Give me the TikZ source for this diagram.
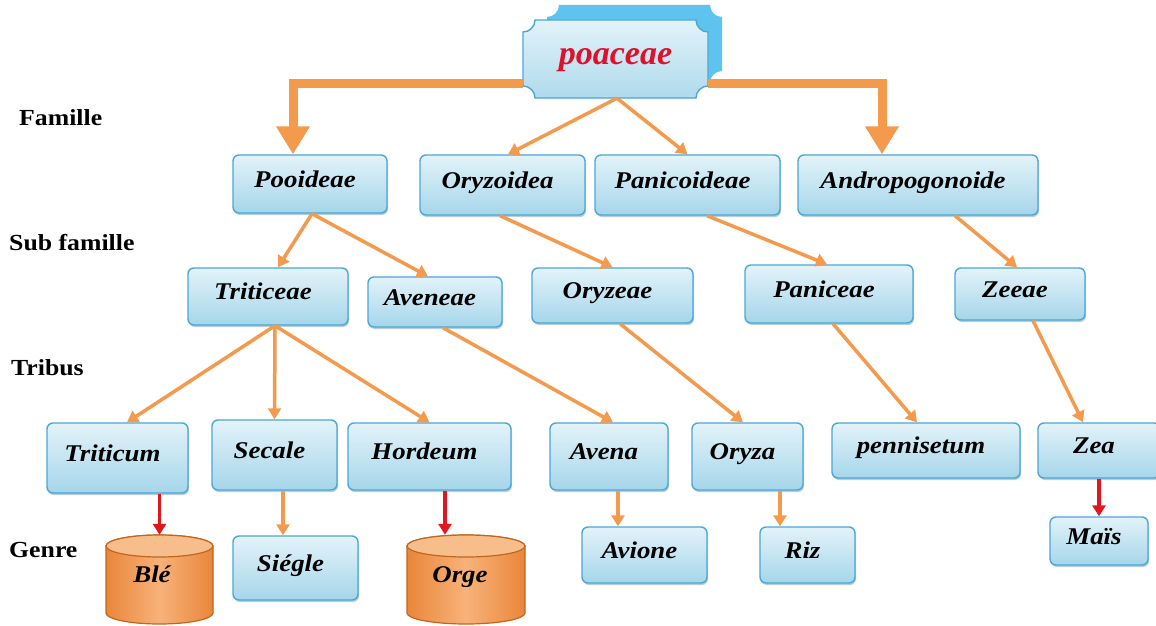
\documentclass[tikz,border=0pt]{standalone}
\usepackage{fontspec}
\setmainfont{Liberation Serif}
\newfontfamily\widefont{Liberation Serif}[FakeStretch=1.12]
\usetikzlibrary{arrows.meta,shadows,backgrounds}
\definecolor{boxline}{HTML}{4BA7D6}
\definecolor{boxtop}{HTML}{E3F3F9}
\definecolor{boxbot}{HTML}{A5D6EA}
\definecolor{orangeC}{HTML}{F39A4C}
\definecolor{redC}{HTML}{E3161D}
\definecolor{plaqueback}{HTML}{5EC3EE}
\definecolor{cylside}{HTML}{E9863A}
\definecolor{cylmid}{HTML}{F8B27A}
\definecolor{cyltop}{HTML}{F7BE8C}
\definecolor{cylline}{HTML}{C0661F}
\definecolor{titlered}{HTML}{E0102A}
\newcommand\boxfont{\widefont\bfseries\itshape\fontsize{24}{28}\selectfont}
\newcommand\myplaque[6]{%
  \path[#6] (#1+#5,#2) -- (#3-#5,#2)
    .. controls (#3-#5,#2+0.552*#5) and (#3-0.552*#5,#2+#5) .. (#3,#2+#5)
    -- (#3,#4-#5)
    .. controls (#3-0.552*#5,#4-#5) and (#3-#5,#4-0.552*#5) .. (#3-#5,#4)
    -- (#1+#5,#4)
    .. controls (#1+#5,#4-0.552*#5) and (#1+0.552*#5,#4-#5) .. (#1,#4-#5)
    -- (#1,#2+#5)
    .. controls (#1+0.552*#5,#2+#5) and (#1+#5,#2+0.552*#5) .. (#1+#5,#2) -- cycle;}
\newcommand\mycyl[5]{% left, right, top, bottom, ry
  \path[draw=cylline,line width=1.2pt,left color=cylside,right color=cylside,middle color=cylmid]
    (#1,#3+#5) -- (#1,#4-#5)
    arc[start angle=180,end angle=360,x radius={(#2-#1)/2*1pt},y radius=#5pt]
    -- (#2,#3+#5)
    arc[start angle=0,end angle=180,x radius={(#2-#1)/2*1pt},y radius=#5pt] -- cycle;
  \path[draw=cylline,line width=1.2pt,fill=cyltop]
    ({(#1+#2)/2},#3+#5) ellipse[x radius={(#2-#1)/2*1pt},y radius=#5pt];}
\tikzset{
  box/.style={draw=boxline, line width=1.4pt, rounded corners=6pt,
    top color=boxtop, bottom color=boxbot, inner sep=0pt, font=\boxfont,
    text height=17pt, text depth=11pt,
    execute at begin node={\hspace*{-10pt}},
    drop shadow={shadow xshift=1pt, shadow yshift=-2pt, opacity=0.35, fill=boxline!70!black}},
  cyltext/.style={inner sep=0pt, font=\boxfont, text height=17pt, text depth=11pt},
  lvl/.style={font=\widefont\bfseries\fontsize{23}{27}\selectfont, inner sep=0pt, anchor=west},
  arr/.style={draw=orangeC, line width=3.5pt, -{Triangle[length=11pt,width=13pt]}},
  redarr/.style={draw=redC, line width=3.5pt, -{Triangle[length=11pt,width=13pt]}},
  bigarr/.style={draw=orangeC, line width=9pt, line join=miter, -{Triangle[length=28pt,width=32pt]}},
}
\begin{document}
\begin{tikzpicture}[x=1pt,y=-1pt]
\useasboundingbox[fill=white] (0,0) rectangle (1156,626);

% level labels
\node[lvl] (famille) at (19,118) {Famille};
\node[lvl] (subfam) at (9,243) {Sub famille};
\node[lvl] (tribus) at (11,368) {Tribus};
\node[lvl] (genre) at (9,550) {Genre};

% poaceae plaque
\myplaque{547}{5}{722}{83}{12}{fill=plaqueback}
\myplaque{523}{20}{708}{98}{12}{draw=boxline,line width=1.4pt,top color=boxtop,bottom color=boxbot!90!white}
\node[inner sep=0pt, minimum width=185pt, minimum height=78pt,
      font=\bfseries\itshape\fontsize{34}{40}\selectfont, text=titlered,
      text height=22pt, text depth=12pt] (poaceae) at (615.5,59) {poaceae};

% sub families
\node[box, minimum width=154pt, minimum height=58pt] (pooideae) at (310,184) {Pooideae};
\node[box, minimum width=165pt, minimum height=60pt] (oryzoidea) at (502.5,185) {Oryzoidea};
\node[box, minimum width=185pt, minimum height=60pt] (panicoideae) at (687.5,185) {Panicoideae};
\node[box, minimum width=240pt, minimum height=60pt] (andro) at (918,185) {Andropogonoide};

% tribus
\node[box, minimum width=160pt, minimum height=57pt] (triticeae) at (268,296.5) {Triticeae};
\node[box, minimum width=134pt, minimum height=50pt] (aveneae) at (435,302) {Aveneae};
\node[box, minimum width=161pt, minimum height=55pt] (oryzeae) at (612.5,295.5) {Oryzeae};
\node[box, minimum width=168pt, minimum height=58pt] (paniceae) at (829,294) {Paniceae};
\node[box, minimum width=130pt, minimum height=52pt] (zeeae) at (1020,294) {Zeeae};

% genre
\node[box, minimum width=141pt, minimum height=70pt] (triticum) at (117.5,458) {Triticum};
\node[box, minimum width=125pt, minimum height=70pt] (secale) at (274.5,455) {Secale};
\node[box, minimum width=163pt, minimum height=67pt] (hordeum) at (429.5,456.5) {Hordeum};
\node[box, minimum width=118pt, minimum height=67pt] (avena) at (609,456.5) {Avena};
\node[box, minimum width=111pt, minimum height=67pt] (oryza) at (747.5,456.5) {Oryza};
\node[box, minimum width=188pt, minimum height=55pt] (pennisetum) at (926,450.5) {pennisetum};
\node[box, minimum width=122pt, minimum height=55pt] (zea) at (1099,450.5) {Zea};

% species
\mycyl{106}{213}{535}{624}{11}
\node[cyltext, minimum width=107pt, minimum height=89pt] (ble) at (152,579.5) {Blé};
\node[box, minimum width=125pt, minimum height=64pt] (siegle) at (295.5,568) {Siégle};
\mycyl{407}{525}{535}{624}{11}
\node[cyltext, minimum width=118pt, minimum height=89pt] (orge) at (460,579.5) {Orge};
\node[box, minimum width=125pt, minimum height=56pt] (avione) at (644.5,555) {Avione};
\node[box, minimum width=95pt, minimum height=56pt] (riz) at (807.5,555) {Riz};
\node[box, minimum width=98pt, minimum height=48pt] (mais) at (1099,541) {Maïs};

% thick arrows from poaceae
\draw[bigarr] ([yshift=-24pt]poaceae.west) -| ([xshift=-17pt]pooideae.north);
\draw[bigarr] ([yshift=-24pt]poaceae.east) -| ([xshift=-36pt]andro.north);
% thin arrows
\draw[arr] ([xshift=1.5pt]poaceae.south) -- ([xshift=5.5pt]oryzoidea.north);
\draw[arr] ([xshift=1.5pt]poaceae.south) -- (panicoideae.north);

\draw[arr] ([xshift=2pt]pooideae.south) -- ([xshift=10pt]triticeae.north);
\draw[arr] ([xshift=2pt]pooideae.south) -- ([xshift=-7pt]aveneae.north);
\draw[arr] ([xshift=-2.5pt]oryzoidea.south) -- (oryzeae.north);
\draw[arr] ([xshift=19.5pt]panicoideae.south) -- ([xshift=-2pt]paniceae.north);
\draw[arr] ([xshift=37pt]andro.south) -- ([xshift=-3pt]zeeae.north);

\draw[arr] ([xshift=7pt]triticeae.south) -- ([xshift=9.5pt]triticum.north);
\draw[arr] ([xshift=7pt]triticeae.south) -- (secale.north);
\draw[arr] ([xshift=7pt]triticeae.south) -- (hordeum.north);
\draw[arr] ([xshift=8pt]aveneae.south) -- ([xshift=4pt]avena.north);
\draw[arr] ([xshift=7.5pt]oryzeae.south) -- ([xshift=-4.5pt]oryza.north);
\draw[arr] ([xshift=4pt]paniceae.south) -- ([xshift=-9pt]pennisetum.north);
\draw[arr] ([xshift=13pt]zeeae.south) -- ([xshift=-16pt]zea.north);

\draw[redarr] ([xshift=42pt]triticum.south) -- ([xshift=42pt]triticum.south |- ble.north);
\draw[arr] ([xshift=8.5pt]secale.south) -- ([xshift=8.5pt]secale.south |- siegle.north);
\draw[redarr] ([xshift=15.5pt]hordeum.south) -- ([xshift=15.5pt]hordeum.south |- orge.north);
\draw[arr] ([xshift=9pt]avena.south) -- ([xshift=9pt]avena.south |- avione.north);
\draw[arr] ([xshift=32.5pt]oryza.south) -- ([xshift=32.5pt]oryza.south |- riz.north);
\draw[redarr] (mais.north |- zea.south) -- (mais.north);
\end{tikzpicture}
\end{document}
